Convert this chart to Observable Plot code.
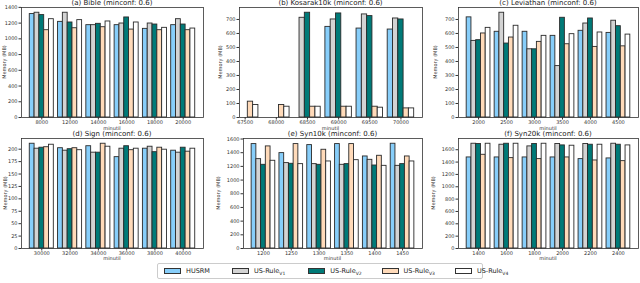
<!DOCTYPE html>
<html><head><meta charset="utf-8">
<script src="https://cdn.jsdelivr.net/npm/d3@7"></script>
<script src="https://cdn.jsdelivr.net/npm/@observablehq/plot@0.6"></script>
<style>
body{margin:0;background:#fff;font-family:"DejaVu Sans",sans-serif;}
#fig{position:relative;width:640px;height:283px;overflow:hidden;background:#fff;}
.panel{position:absolute;}
.title{position:absolute;font-size:7px;text-align:center;white-space:nowrap;color:#222;line-height:7px;}
.ylab{position:absolute;font-size:5px;white-space:nowrap;color:#333;line-height:5px;transform:translate(-50%,-50%) rotate(-90deg);}
.xlab{position:absolute;font-size:5px;white-space:nowrap;color:#333;line-height:5px;text-align:center;}
#legend{position:absolute;left:157px;top:263px;width:326px;height:16px;border:1px solid #ccc;border-radius:2px;display:flex;align-items:center;font-size:6.5px;color:#222;box-sizing:border-box;white-space:nowrap;}
.item{display:flex;align-items:center;white-space:nowrap;}
.sw{width:17px;height:6px;border:1px solid #333;margin-right:5px;box-sizing:border-box;}
sub{font-size:4.5px;vertical-align:-2px;}
</style></head><body><div id="fig"></div>
<script>
const seriesNames = ["HUSRM", "US-Rule V1", "US-Rule V2", "US-Rule V3", "US-Rule V4"];
const seriesColors = ["#87CEFA", "#D3D3D3", "#007a78", "#FFDAB9", "#FFFFFF"];
const barWidth = 0.17;

const bibleMinutil = ["8000", "12000", "14000", "16000", "18000", "20000"];
const bibleValues = [
  [1315, 1216, 1174, 1174, 1127, 1174],
  [1332, 1332, 1174, 1195, 1195, 1250],
  [1302, 1208, 1191, 1272, 1182, 1182],
  [1110, 1135, 1148, 1118, 1110, 1110],
  [1250, 1238, 1221, 1208, 1140, 1131]
];
const bibleYTicks = [0, 200, 400, 600, 800, 1000, 1200, 1400];

const kosarakMinutil = ["67500", "68000", "68500", "69000", "69500", "70000"];
const kosarakValues = [
  [null, null, null, 647, 635, 628],
  [null, null, 712, 700, 736, 707],
  [null, null, 748, 743, 724, 700],
  [113, 89, 77, 77, 77, 65],
  [89, 77, 77, 77, 70, 65]
];
const kosarakYTicks = [0, 100, 200, 300, 400, 500, 600, 700];

const leviathanMinutil = ["2000", "2500", "3000", "3500", "4000", "4500"];
const leviathanValues = [
  [715, 612, 612, 583, 619, 604],
  [547, 748, 487, 367, 671, 691],
  [552, 528, 487, 712, 707, 652],
  [600, 571, 540, 523, 504, 508],
  [640, 655, 583, 595, 607, 592]
];
const leviathanYTicks = [0, 100, 200, 300, 400, 500, 600, 700];

const signMinutil = ["30000", "32000", "34000", "36000", "38000", "40000"];
const signValues = [
  [211, 202, 206, 184, 201, 197],
  [201, 197, 193, 201, 205, 193],
  [203, 200, 193, 206, 194, 203],
  [204, 202, 211, 198, 203, 195],
  [209, 198, 205, 201, 199, 201]
];
const signYTicks = [0, 25, 50, 75, 100, 125, 150, 175, 200];

const syn10kMinutil = ["1200", "1250", "1300", "1350", "1400", "1450"];
const syn10kValues = [
  [1526, 1394, 1511, 1526, 1345, 1531],
  [1306, 1248, 1233, 1223, 1296, 1208],
  [1223, 1238, 1223, 1233, 1213, 1233],
  [1492, 1526, 1443, 1526, 1355, 1345],
  [1282, 1233, 1272, 1291, 1208, 1272]
];
const syn10kYTicks = [0, 200, 400, 600, 800, 1000, 1200, 1400, 1600];

const syn20kMinutil = ["1400", "1600", "1800", "2000", "2200", "2400"];
const syn20kValues = [
  [1475, 1475, 1475, 1475, 1448, 1459],
  [1697, 1681, 1654, 1692, 1692, 1697],
  [1692, 1697, 1692, 1670, 1681, 1681],
  [1518, 1464, 1448, 1475, 1426, 1415],
  [1697, 1697, 1697, 1665, 1681, 1670]
];
const syn20kYTicks = [0, 200, 400, 600, 800, 1000, 1200, 1400, 1600];

const panels = [
  {title: "(a) Bible (minconf: 0.6)", cats: bibleMinutil, values: bibleValues, yTicks: bibleYTicks,
   left: 0, top: 0, width: 213, height: 132, ml: 21, mr: 10, mt: 7, mb: 15, yOff: 17, tTop: 0, xTop: 126},
  {title: "(b) Kosarak10k (minconf: 0.6)", cats: kosarakMinutil, values: kosarakValues, yTicks: kosarakYTicks,
   left: 213, top: 0, width: 213, height: 132, ml: 26, mr: 4, mt: 7, mb: 15, yOff: 19, tTop: 0, xTop: 126},
  {title: "(c) Leviathan (minconf: 0.6)", cats: leviathanMinutil, values: leviathanValues, yTicks: leviathanYTicks,
   left: 426, top: 0, width: 214, height: 132, ml: 32, mr: 2, mt: 7, mb: 15, yOff: 23, tTop: 0, xTop: 126},
  {title: "(d) Sign (minconf: 0.6)", cats: signMinutil, values: signValues, yTicks: signYTicks,
   left: 0, top: 128, width: 213, height: 135, ml: 21, mr: 10, mt: 10, mb: 15, yOff: 16, tTop: 131, xTop: 256},
  {title: "(e) Syn10k (minconf: 0.6)", cats: syn10kMinutil, values: syn10kValues, yTicks: syn10kYTicks,
   left: 213, top: 128, width: 213, height: 135, ml: 30, mr: 4, mt: 10, mb: 15, yOff: 25, tTop: 131, xTop: 256},
  {title: "(f) Syn20k (minconf: 0.6)", cats: syn20kMinutil, values: syn20kValues, yTicks: syn20kYTicks,
   left: 426, top: 128, width: 214, height: 135, ml: 32, mr: 2, mt: 10, mb: 15, yOff: 25, tTop: 131, xTop: 256}
];

const fig = document.getElementById("fig");

for (const p of panels) {
  // grouped bars, laid out like matplotlib: group i at x=i, series j offset by (j-2)*barWidth
  const rows = [];
  p.cats.forEach((c, i) => {
    seriesNames.forEach((s, j) => {
      const v = p.values[j][i];
      if (v == null) return;
      const center = i + (j - 2) * barWidth;
      rows.push({series: s, x1: center - barWidth / 2, x2: center + barWidth / 2, value: v});
    });
  });
  // autoscale with 5% margins (as matplotlib does)
  const xmin = d3.min(rows, d => d.x1), xmax = d3.max(rows, d => d.x2);
  const xm = 0.05 * (xmax - xmin);
  const ymax = 1.05 * d3.max(rows, d => d.value);
  const chart = Plot.plot({
    width: p.width, height: p.height,
    marginLeft: p.ml, marginRight: p.mr, marginTop: p.mt, marginBottom: p.mb,
    style: {fontSize: "5px", fontFamily: "DejaVu Sans, sans-serif", background: "transparent", color: "#333"},
    x: {domain: [xmin - xm, xmax + xm], ticks: d3.range(p.cats.length), tickFormat: i => p.cats[i],
        tickSize: 2.5, tickPadding: 0.5, label: null},
    y: {domain: [0, ymax], ticks: p.yTicks, tickFormat: d => String(d), tickSize: 2.5, tickPadding: 1.5, label: null},
    color: {domain: seriesNames, range: seriesColors},
    marks: [
      Plot.rect(rows, {x1: "x1", x2: "x2", y1: 0, y2: "value", fill: "series", stroke: "#2a2a2a", strokeWidth: 0.9}),
      Plot.frame({stroke: "#333", strokeWidth: 0.8})
    ]
  });
  chart.classList.add("panel");
  chart.style.left = p.left + "px";
  chart.style.top = p.top + "px";
  fig.appendChild(chart);
  const t = document.createElement("div");
  t.className = "title";
  t.textContent = p.title;
  t.style.left = (p.left + p.ml) + "px";
  t.style.width = (p.width - p.ml - p.mr) + "px";
  t.style.top = p.tTop + "px";
  fig.appendChild(t);
  const yl = document.createElement("div");
  yl.className = "ylab";
  yl.textContent = "Memory (MB)";
  yl.style.left = (p.left + p.ml - p.yOff) + "px";
  yl.style.top = (p.top + p.mt + (p.height - p.mt - p.mb) / 2) + "px";
  fig.appendChild(yl);
  const xl = document.createElement("div");
  xl.className = "xlab";
  xl.textContent = "minutil";
  xl.style.left = (p.left + p.ml) + "px";
  xl.style.width = (p.width - p.ml - p.mr) + "px";
  xl.style.top = p.xTop + "px";
  fig.appendChild(xl);
}

const legend = document.createElement("div");
legend.id = "legend";
const gaps = [6, 22, 23, 20, 20];
seriesNames.forEach((s, i) => {
  const it = document.createElement("div");
  it.className = "item";
  it.style.marginLeft = gaps[i] + "px";
  const sw = document.createElement("div");
  sw.className = "sw";
  sw.style.background = seriesColors[i];
  const lab = document.createElement("span");
  const parts = s.split(" ");
  lab.textContent = parts[0];
  if (parts[1]) {
    const sub = document.createElement("sub");
    sub.textContent = parts[1];
    lab.appendChild(sub);
  }
  it.appendChild(sw);
  it.appendChild(lab);
  legend.appendChild(it);
});
fig.appendChild(legend);
</script></body></html>
